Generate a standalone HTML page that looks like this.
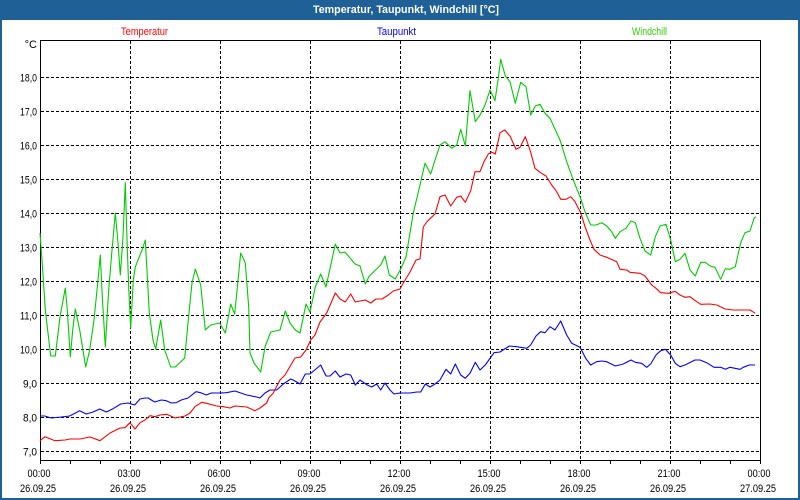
<!DOCTYPE html>
<html>
<head>
<meta charset="utf-8">
<style>
html,body{margin:0;padding:0;background:#fff;}
body{width:800px;height:500px;overflow:hidden;}
svg{display:block;}
text{font-family:"Liberation Sans",sans-serif;}
</style>
</head>
<body>
<svg width="800" height="500" viewBox="0 0 800 500" xmlns="http://www.w3.org/2000/svg">
  <!-- frame -->
  <rect x="0" y="0" width="800" height="500" fill="#1f6097"/>
  <rect x="2" y="20" width="796" height="478" fill="#fff"/>
  <text x="313" y="13" font-size="11" font-weight="bold" fill="#fff" textLength="186" lengthAdjust="spacingAndGlyphs">Temperatur, Taupunkt, Windchill [°C]</text>

  <!-- legend -->
  <text x="121" y="35" font-size="11" fill="#f00" textLength="47" lengthAdjust="spacingAndGlyphs">Temperatur</text>
  <text x="377" y="35" font-size="11" fill="#0000ff" textLength="39" lengthAdjust="spacingAndGlyphs">Taupunkt</text>
  <text x="632" y="35" font-size="11" fill="#33cc00" textLength="35" lengthAdjust="spacingAndGlyphs">Windchill</text>

  <!-- y axis labels -->
  <g font-size="11" fill="#000" text-anchor="end">
    <text x="37" y="48">°C</text>
    <text x="37" y="81.5" textLength="17" lengthAdjust="spacingAndGlyphs">18,0</text>
    <text x="37" y="115.5" textLength="17" lengthAdjust="spacingAndGlyphs">17,0</text>
    <text x="37" y="149.5" textLength="17" lengthAdjust="spacingAndGlyphs">16,0</text>
    <text x="37" y="183.5" textLength="17" lengthAdjust="spacingAndGlyphs">15,0</text>
    <text x="37" y="217.5" textLength="17" lengthAdjust="spacingAndGlyphs">14,0</text>
    <text x="37" y="251.5" textLength="17" lengthAdjust="spacingAndGlyphs">13,0</text>
    <text x="37" y="285.5" textLength="17" lengthAdjust="spacingAndGlyphs">12,0</text>
    <text x="37" y="319.5" textLength="17" lengthAdjust="spacingAndGlyphs">11,0</text>
    <text x="37" y="353.5" textLength="17" lengthAdjust="spacingAndGlyphs">10,0</text>
    <text x="37" y="387.5" textLength="14" lengthAdjust="spacingAndGlyphs">9,0</text>
    <text x="37" y="421.5" textLength="14" lengthAdjust="spacingAndGlyphs">8,0</text>
    <text x="37" y="455.5" textLength="14" lengthAdjust="spacingAndGlyphs">7,0</text>
  </g>

  <!-- grid -->
  <g stroke="#000" stroke-width="1" stroke-dasharray="3,2" shape-rendering="crispEdges" fill="none">
    <line x1="41" y1="77.5" x2="760" y2="77.5"/>
    <line x1="41" y1="111.5" x2="760" y2="111.5"/>
    <line x1="41" y1="145.5" x2="760" y2="145.5"/>
    <line x1="41" y1="179.5" x2="760" y2="179.5"/>
    <line x1="41" y1="213.5" x2="760" y2="213.5"/>
    <line x1="41" y1="247.5" x2="760" y2="247.5"/>
    <line x1="41" y1="281.5" x2="760" y2="281.5"/>
    <line x1="41" y1="315.5" x2="760" y2="315.5"/>
    <line x1="41" y1="349.5" x2="760" y2="349.5"/>
    <line x1="41" y1="383.5" x2="760" y2="383.5"/>
    <line x1="41" y1="417.5" x2="760" y2="417.5"/>
    <line x1="41" y1="451.5" x2="760" y2="451.5"/>
    <line x1="130.5" y1="41" x2="130.5" y2="460"/>
    <line x1="220.5" y1="41" x2="220.5" y2="460"/>
    <line x1="310.5" y1="41" x2="310.5" y2="460"/>
    <line x1="400.5" y1="41" x2="400.5" y2="460"/>
    <line x1="490.5" y1="41" x2="490.5" y2="460"/>
    <line x1="580.5" y1="41" x2="580.5" y2="460"/>
    <line x1="670.5" y1="41" x2="670.5" y2="460"/>
  </g>

  <!-- plot frame -->
  <rect x="40.5" y="40.5" width="720" height="420" fill="none" stroke="#000" stroke-width="1" shape-rendering="crispEdges"/>

  <!-- ticks -->
  <g stroke="#000" stroke-width="1" shape-rendering="crispEdges">
    <line x1="40.5" y1="460" x2="40.5" y2="464"/>
    <line x1="70.5" y1="460" x2="70.5" y2="464"/>
    <line x1="100.5" y1="460" x2="100.5" y2="464"/>
    <line x1="130.5" y1="460" x2="130.5" y2="464"/>
    <line x1="160.5" y1="460" x2="160.5" y2="464"/>
    <line x1="190.5" y1="460" x2="190.5" y2="464"/>
    <line x1="220.5" y1="460" x2="220.5" y2="464"/>
    <line x1="250.5" y1="460" x2="250.5" y2="464"/>
    <line x1="280.5" y1="460" x2="280.5" y2="464"/>
    <line x1="310.5" y1="460" x2="310.5" y2="464"/>
    <line x1="340.5" y1="460" x2="340.5" y2="464"/>
    <line x1="370.5" y1="460" x2="370.5" y2="464"/>
    <line x1="400.5" y1="460" x2="400.5" y2="464"/>
    <line x1="430.5" y1="460" x2="430.5" y2="464"/>
    <line x1="460.5" y1="460" x2="460.5" y2="464"/>
    <line x1="490.5" y1="460" x2="490.5" y2="464"/>
    <line x1="520.5" y1="460" x2="520.5" y2="464"/>
    <line x1="550.5" y1="460" x2="550.5" y2="464"/>
    <line x1="580.5" y1="460" x2="580.5" y2="464"/>
    <line x1="610.5" y1="460" x2="610.5" y2="464"/>
    <line x1="640.5" y1="460" x2="640.5" y2="464"/>
    <line x1="670.5" y1="460" x2="670.5" y2="464"/>
    <line x1="700.5" y1="460" x2="700.5" y2="464"/>
    <line x1="730.5" y1="460" x2="730.5" y2="464"/>
    <line x1="760.5" y1="460" x2="760.5" y2="464"/>
  </g>

  <!-- x labels -->
  <g font-size="11" fill="#000" text-anchor="middle">
    <text x="39" y="477" textLength="23" lengthAdjust="spacingAndGlyphs">00:00</text>
    <text x="129" y="477" textLength="23" lengthAdjust="spacingAndGlyphs">03:00</text>
    <text x="219" y="477" textLength="23" lengthAdjust="spacingAndGlyphs">06:00</text>
    <text x="309" y="477" textLength="23" lengthAdjust="spacingAndGlyphs">09:00</text>
    <text x="399" y="477" textLength="23" lengthAdjust="spacingAndGlyphs">12:00</text>
    <text x="489" y="477" textLength="23" lengthAdjust="spacingAndGlyphs">15:00</text>
    <text x="579" y="477" textLength="23" lengthAdjust="spacingAndGlyphs">18:00</text>
    <text x="669" y="477" textLength="23" lengthAdjust="spacingAndGlyphs">21:00</text>
    <text x="759" y="477" textLength="23" lengthAdjust="spacingAndGlyphs">00:00</text>
    <text x="38" y="492" textLength="36" lengthAdjust="spacingAndGlyphs">26.09.25</text>
    <text x="128" y="492" textLength="36" lengthAdjust="spacingAndGlyphs">26.09.25</text>
    <text x="218" y="492" textLength="36" lengthAdjust="spacingAndGlyphs">26.09.25</text>
    <text x="308" y="492" textLength="36" lengthAdjust="spacingAndGlyphs">26.09.25</text>
    <text x="398" y="492" textLength="36" lengthAdjust="spacingAndGlyphs">26.09.25</text>
    <text x="488" y="492" textLength="36" lengthAdjust="spacingAndGlyphs">26.09.25</text>
    <text x="578" y="492" textLength="36" lengthAdjust="spacingAndGlyphs">26.09.25</text>
    <text x="668" y="492" textLength="36" lengthAdjust="spacingAndGlyphs">26.09.25</text>
    <text x="758" y="492" textLength="36" lengthAdjust="spacingAndGlyphs">27.09.25</text>
  </g>

  <!-- series -->
  <g fill="none" stroke-width="1.1" stroke-linejoin="round">
    <!-- Windchill -->
    <polyline stroke="#00cc00" points="40,233 42.7,270 45.3,310 50.7,356 55.3,356 60,317 65.3,288 67.3,310 70.3,357 72.7,330 75.3,309 79.7,330 85.7,367 89.7,350 94,320 98,280 100.3,255 102.3,297 105.3,347 108.7,290 112,250 115.3,213 118,243 120.3,275 123,237 125.3,182.7 126.7,230 128.7,288 130.7,328 133.3,280 135.3,267 142,250 145.3,240 149.3,313 153,340 155.7,349 160.7,320 164.7,350 170.7,367 175.3,367 184.7,358 188,323 192,283 195.3,269 200.7,285 205.3,330 210.7,325 219.7,323 225.3,333 230.7,304 234.7,314 240.7,253 245.3,263 248.7,307 250,353 254,363 260.7,372 265,347 270.7,332 280,330 285.3,311 290,323 295.3,330 300,333 306,304 310,312 315.3,287 320.7,274 326,287 335.3,244 340,253 345,252 355,264 360,266 365.3,284 369.3,276 380.7,265 385,256 389.3,275 395.3,279 400.7,269 406,257 413.3,213 420,185 425,163.3 430.7,174 435,160 440,145 445,141.7 451.7,148.3 456.7,145 460.7,129.3 465.3,146 470,90.7 475.3,121.7 480,115 485,105 490,90 495,100.7 498,80 500.7,59.3 505.3,76 510,81.7 515.3,103.3 520.7,82.3 526,86.7 530.7,115 535.3,106 540,104.3 545,113.3 550,118.3 560,140 566.7,161.7 573.3,180 580,196.7 585,211.7 590.7,225 596,225 601.7,222.7 606.7,226 611.7,231.7 615.3,238.3 620,231.7 626,228.3 631,221 635.3,222.7 640,238.3 645,251 650.7,255 655.3,236.7 660,226 666,224.3 670.7,240 675.3,261.7 680,259.3 685,253.3 690,270 695.3,276 700.7,262.3 705.3,262.3 710,266 715,267.3 720.7,279.3 725.3,268.7 730,269.3 735.3,266.7 740.7,242.7 745,232.7 750,231 754,218.3 756,216.7"/>
    <!-- Taupunkt -->
    <polyline stroke="#0000ff" points="40,416 44.7,416 51.3,418 61.3,417 69.7,416 79.7,410.7 86.3,414 93,412 99.7,409 106.3,412 113,408.7 120.7,404 128,403 134.7,405 140,399 145,398 148,398 154.7,402 161.3,400 166.3,400.7 171.3,403 176.3,402.7 181.3,400 188,398 196,391.7 200.7,392.7 206.3,395 211.3,393 219.7,393 226.3,392.7 235,391 246.7,395 256.7,397 260,398 265,393 270,390 276.7,390 283.3,384 290.7,379 295,381 300,384 305.3,374 310,374 320.7,365 326,376 330,376 335.3,371 340,377 346,374 350.7,375 355.3,385 360,380 367.3,385 371.7,387 376.7,384 380.7,390 385,383 390,390 394,394 400,393 410,393 416.7,392 420.7,392 425.3,384 430,387 435,384 440,380 446,369.3 450.7,374 455.3,364 460.7,375 465.3,378.3 470,373.3 475.3,362.3 480,370 485.3,365 494,352.7 500,352 509.3,346 516.7,346.7 526.7,348.3 530.7,345 536,336 540.7,331.7 545,332.7 550,326.7 555,330 560.7,321 566.7,335 571.7,343.3 580,347.3 585.7,358.3 590.7,365 596.7,361.7 601.7,361 606.7,361.7 615.3,366 623.3,364 631,360 635.3,362.3 641.7,363.3 646.7,367.3 650.7,364 656,355 660.7,350.7 665.3,349.3 670.7,355 675.3,363.3 680,366.7 685,365 695,360 700,360 706.7,362.7 714,367.3 720.7,367.3 725.3,369.3 730,367.3 735,368.3 740,369.3 743.3,367.3 749.3,365 755,365"/>
    <!-- Temperatur -->
    <polyline stroke="#ff0000" points="40,440.7 45,436.7 55,440.7 65,440 70,439 80,439 90,437 100,440.7 110,433 120,428 125,427.7 130,422.7 135,429 140,422.7 145,420 150,415.7 155,416.7 160,415 166.7,414.3 175,418 185,416 190,413 195,406.7 201.7,402.3 206.7,403.3 216.7,406 223.3,406.7 230,408 235,406 246.7,407 255,410.7 260,408 266.7,403 268.7,398 273.3,393 280,380 285,375 295,358 300.7,357 306,350 310.7,340 315,335 320,322 326.7,313 335.3,293 340,299 345.3,302 350.7,294 355.3,302 360,301 365.3,300 370.7,303 376,299 382,299 388.3,295 393.3,291 400,289 403.3,283 410,272 416,260 420,259 423.3,227 426.7,222 430,218.7 435,214 440,196.7 445,195 450.7,206 456.7,197.3 460.7,196 465.3,202.3 470.7,190.7 475,171.7 480,171.7 484,161.7 488.3,154 491.7,152 495.3,154 500,132.7 504.7,130 510,136 516,149.3 520,147.3 525.3,136.7 530,150 535,168.3 540,172.3 546,176 551.7,185 556.7,191.7 560.7,199.3 566,199.3 570.7,196.7 575,201.7 580.7,212.7 585,226.7 590,240 594,249.3 600,255 606.7,257.3 616.7,261.7 620,269.3 626.7,270 630,272.3 640,273.3 645,276 651.7,285 656,288.3 660.7,292.7 668.7,293.3 675,291.3 680,295 685,297.3 690,296.7 695.3,300.7 700.7,304.3 710,304 716.7,305 725,309 733.3,310 750,310 752.7,311.7 755.3,313.3"/>
  </g>
</svg>
</body>
</html>
